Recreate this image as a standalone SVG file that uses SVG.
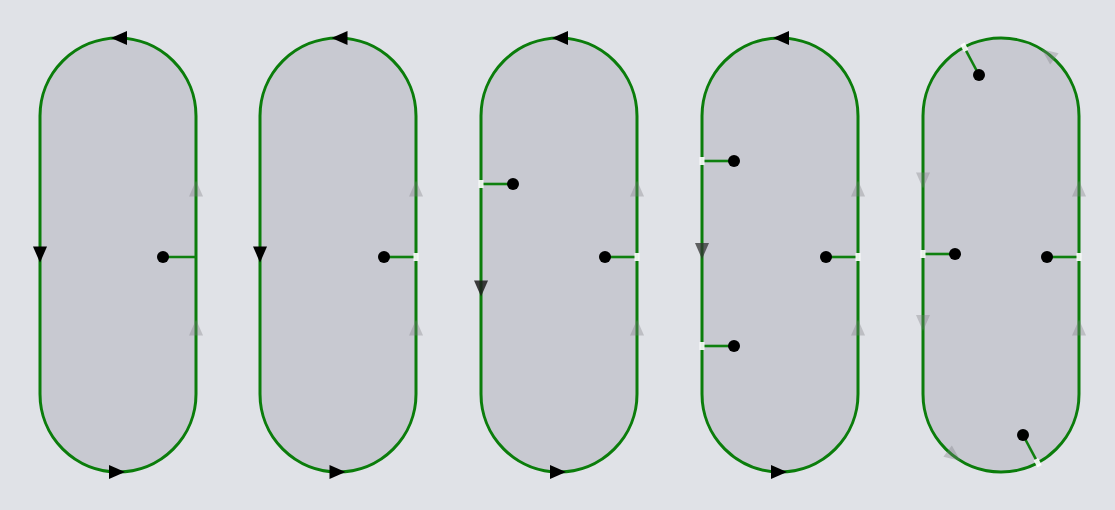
<svg xmlns="http://www.w3.org/2000/svg" width="1115" height="510" viewBox="0 0 1115 510">
<style>
.bg{fill:#e0e2e7}
.shape{fill:#c8c9d1;stroke:#0b7d0b;stroke-width:3}
.conn{stroke:#0f800f;stroke-width:2.6;fill:none}
.dot{fill:#000}
.gap{fill:#ffffff;opacity:0.9}
.arr{fill:#000}
.arr2{fill:#1c1c1c;opacity:0.85}
.arr3{fill:#333;opacity:0.75}
.faint{fill:#7a7c82;opacity:0.35}
</style>
<defs>
<path id="tri" d="M8,0 L-8,-7 L-8,7 Z"/>
<path id="stad" d="M0,116 A78,78 0 0 1 156,116 L156,394 A78,78 0 0 1 0,394 Z"/>
</defs>
<rect class="bg" x="0" y="0" width="1115" height="510"/>

<g id="shape1" transform="translate(40,0)">
<use href="#stad" class="shape"/>
</g>
<g id="shape2" transform="translate(260,0)">
<use href="#stad" class="shape"/>
</g>
<g id="shape3" transform="translate(481,0)">
<use href="#stad" class="shape"/>
</g>
<g id="shape4" transform="translate(702,0)">
<use href="#stad" class="shape"/>
</g>
<g id="shape5" transform="translate(923,0)">
<use href="#stad" class="shape"/>
</g>

<g id="connectors">
<line class="conn" x1="163" y1="257" x2="196" y2="257"/>
<line class="conn" x1="384" y1="257" x2="416" y2="257"/>
<line class="conn" x1="513" y1="184" x2="481" y2="184"/>
<line class="conn" x1="605" y1="257" x2="637" y2="257"/>
<line class="conn" x1="734" y1="161" x2="702" y2="161"/>
<line class="conn" x1="734" y1="346" x2="702" y2="346"/>
<line class="conn" x1="826" y1="257" x2="858" y2="257"/>
<line class="conn" x1="979" y1="75" x2="964.3" y2="47.3"/>
<line class="conn" x1="955" y1="254" x2="923" y2="254"/>
<line class="conn" x1="1047" y1="257" x2="1079" y2="257"/>
<line class="conn" x1="1023" y1="435" x2="1037.7" y2="462.7"/>
</g>

<g id="gaps">
<rect class="gap" x="413.5" y="253" width="5" height="8"/>
<rect class="gap" x="478.5" y="180" width="5" height="8"/>
<rect class="gap" x="634.5" y="253" width="5" height="8"/>
<rect class="gap" x="699.5" y="157" width="5" height="8"/>
<rect class="gap" x="699.5" y="342" width="5" height="8"/>
<rect class="gap" x="855.5" y="253" width="5" height="8"/>
<rect class="gap" x="920.5" y="250" width="5" height="8"/>
<rect class="gap" x="1076.5" y="253" width="5" height="8"/>
<rect class="gap" x="-2.5" y="-4" width="5" height="8" transform="translate(964.3,47.3) rotate(-28)"/>
<rect class="gap" x="-2.5" y="-4" width="5" height="8" transform="translate(1037.7,462.7) rotate(-28)"/>
</g>

<g id="arrows">
<!-- shape 1 -->
<use href="#tri" class="arr" transform="translate(119,38) rotate(180)"/>
<use href="#tri" class="arr" transform="translate(40,254.5) rotate(90)"/>
<use href="#tri" class="arr" transform="translate(117,472)"/>
<use href="#tri" class="faint" transform="translate(196,188.5) rotate(-90)"/>
<use href="#tri" class="faint" transform="translate(196,327.5) rotate(-90)"/>
<!-- shape 2 -->
<use href="#tri" class="arr" transform="translate(339.5,38) rotate(180)"/>
<use href="#tri" class="arr" transform="translate(260,254.5) rotate(90)"/>
<use href="#tri" class="arr" transform="translate(337.5,472)"/>
<use href="#tri" class="faint" transform="translate(416,188.5) rotate(-90)"/>
<use href="#tri" class="faint" transform="translate(416,327.5) rotate(-90)"/>
<!-- shape 3 -->
<use href="#tri" class="arr" transform="translate(560,38) rotate(180)"/>
<use href="#tri" class="arr2" transform="translate(481,288.5) rotate(90)"/>
<use href="#tri" class="arr" transform="translate(558,472)"/>
<use href="#tri" class="faint" transform="translate(637,188.5) rotate(-90)"/>
<use href="#tri" class="faint" transform="translate(637,327.5) rotate(-90)"/>
<!-- shape 4 -->
<use href="#tri" class="arr" transform="translate(781,38) rotate(180)"/>
<use href="#tri" class="arr3" transform="translate(702,251) rotate(90)"/>
<use href="#tri" class="arr" transform="translate(779,472)"/>
<use href="#tri" class="faint" transform="translate(858,188.5) rotate(-90)"/>
<use href="#tri" class="faint" transform="translate(858,327.5) rotate(-90)"/>
<!-- shape 5 -->
<use href="#tri" class="faint" transform="translate(1048,54) rotate(-143)"/>
<use href="#tri" class="faint" transform="translate(954,456) rotate(37)"/>
<use href="#tri" class="faint" transform="translate(923,180.5) rotate(90)"/>
<use href="#tri" class="faint" transform="translate(923,323) rotate(90)"/>
<use href="#tri" class="faint" transform="translate(1079,188.5) rotate(-90)"/>
<use href="#tri" class="faint" transform="translate(1079,327.5) rotate(-90)"/>
</g>

<g id="dot1"><circle class="dot" cx="163" cy="257" r="6"/></g>
<g id="dot2"><circle class="dot" cx="384" cy="257" r="6"/></g>
<g id="dot3a"><circle class="dot" cx="513" cy="184" r="6"/></g>
<g id="dot3b"><circle class="dot" cx="605" cy="257" r="6"/></g>
<g id="dot4a"><circle class="dot" cx="734" cy="161" r="6"/></g>
<g id="dot4b"><circle class="dot" cx="734" cy="346" r="6"/></g>
<g id="dot4c"><circle class="dot" cx="826" cy="257" r="6"/></g>
<g id="dot5a"><circle class="dot" cx="979" cy="75" r="6"/></g>
<g id="dot5b"><circle class="dot" cx="955" cy="254" r="6"/></g>
<g id="dot5c"><circle class="dot" cx="1047" cy="257" r="6"/></g>
<g id="dot5d"><circle class="dot" cx="1023" cy="435" r="6"/></g>
</svg>
